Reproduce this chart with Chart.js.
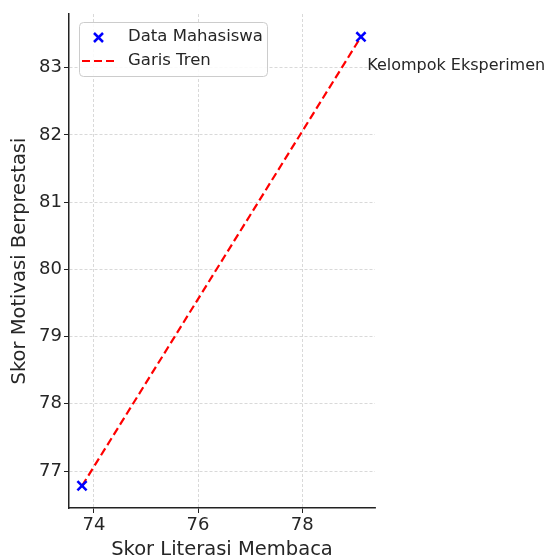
<!DOCTYPE html>
<html>
<head>
<meta charset="utf-8">
<script src="https://cdn.jsdelivr.net/npm/chart.js@4"></script>
<style>
    html, body { margin: 0; padding: 0; background: #fff; }
    #chart { display: block; }
</style>
</head>
<body>
<canvas id="chart" width="548" height="558"></canvas>
<script>
// Data
const literasi = [73.77, 79.13];
const motivasi = [76.78, 83.46];
const trenX = [73.77, 79.13];
const trenY = [76.78, 83.46];
const xTicks = [74, 76, 78];
const yTicks = [77, 78, 79, 80, 81, 82, 83];
const labelTeks = 'Kelompok Eksperimen';
const labelPos = [79.25, 83.03];

const FONT = '"DejaVu Sans", sans-serif';
const TEXT = '#262626';

// legend + annotation drawn inside the plot area
const overlayPlugin = {
    id: 'overlay',
    afterDatasetsDraw(chart) {
        const { ctx, scales: { x, y } } = chart;
        ctx.save();

        // annotation
        ctx.font = '16px ' + FONT;
        ctx.fillStyle = TEXT;
        ctx.textAlign = 'left';
        ctx.textBaseline = 'middle';
        ctx.fillText(labelTeks, x.getPixelForValue(labelPos[0]), y.getPixelForValue(labelPos[1]));

        // legend box
        const bx = 79, by = 22, bw = 188, bh = 54;
        ctx.fillStyle = 'rgba(255,255,255,0.85)';
        ctx.strokeStyle = '#cccccc';
        ctx.lineWidth = 1;
        ctx.beginPath();
        ctx.roundRect(bx + 0.5, by + 0.5, bw, bh, 4);
        ctx.fill();
        ctx.stroke();

        // marker
        ctx.strokeStyle = '#0000ff';
        ctx.lineWidth = 2.5;
        ctx.beginPath();
        ctx.moveTo(94, 33); ctx.lineTo(103, 42);
        ctx.moveTo(103, 33); ctx.lineTo(94, 42);
        ctx.stroke();

        // dashed line
        ctx.strokeStyle = '#ff0000';
        ctx.lineWidth = 2.2;
        ctx.setLineDash([8, 4]);
        ctx.beginPath();
        ctx.moveTo(82, 61); ctx.lineTo(116, 61);
        ctx.stroke();
        ctx.setLineDash([]);

        ctx.font = '16.5px ' + FONT;
        ctx.fillStyle = TEXT;
        ctx.fillText('Data Mahasiswa', 128, 37);
        ctx.fillText('Garis Tren', 128, 61);

        ctx.restore();
    }
};

const ctx = document.getElementById('chart').getContext('2d');
new Chart(ctx, {
    type: 'scatter',
    data: {
        datasets: [
            {
                label: 'Data Mahasiswa',
                data: literasi.map((v, i) => ({ x: v, y: motivasi[i] })),
                pointStyle: 'crossRot',
                pointRadius: 6.5,
                pointBorderWidth: 2.5,
                borderColor: '#0000ff',
                backgroundColor: '#0000ff',
                pointHoverRadius: 6.5
            },
            {
                label: 'Garis Tren',
                type: 'line',
                data: trenX.map((v, i) => ({ x: v, y: trenY[i] })),
                borderColor: '#ff0000',
                borderWidth: 2.2,
                borderDash: [8, 4],
                pointRadius: 0,
                fill: false
            }
        ]
    },
    options: {
        responsive: false,
        animation: false,
        devicePixelRatio: 1,
        layout: { padding: { left: 0, top: 14, right: 173, bottom: 0 } },
        plugins: {
            legend: { display: false },
            tooltip: { enabled: false }
        },
        scales: {
            x: {
                type: 'linear',
                min: 73.52,
                max: 79.4,
                afterFit: s => { s.height = 50; },
                afterBuildTicks: s => { s.ticks = xTicks.map(v => ({ value: v })); },
                grid: {
                    color: '#cfcfcf',
                    lineWidth: 0.8,
                    tickColor: '#222',
                    tickLength: 5,
                    tickWidth: 1
                },
                border: { display: true, color: '#222', width: 1.5, dash: [3, 2] },
                ticks: { color: TEXT, font: { family: FONT, size: 18 }, padding: 2 },
                title: {
                    display: true,
                    text: 'Skor Literasi Membaca',
                    color: TEXT,
                    font: { family: FONT, size: 19.5 },
                    padding: { top: 0, bottom: -4 }
                }
            },
            y: {
                type: 'linear',
                min: 76.45,
                max: 83.8,
                afterFit: s => { s.width = 69; },
                afterBuildTicks: s => { s.ticks = yTicks.map(v => ({ value: v })); },
                grid: {
                    color: '#cfcfcf',
                    lineWidth: 0.8,
                    tickColor: '#222',
                    tickLength: 5,
                    tickWidth: 1
                },
                border: { display: true, color: '#222', width: 1.5, dash: [3, 2] },
                ticks: { color: TEXT, font: { family: FONT, size: 18 }, padding: 2 },
                title: {
                    display: true,
                    text: 'Skor Motivasi Berprestasi',
                    color: TEXT,
                    font: { family: FONT, size: 19.5 },
                    padding: { top: 8, bottom: 0 }
                }
            }
        }
    },
    plugins: [overlayPlugin]
});
</script>
</body>
</html>
